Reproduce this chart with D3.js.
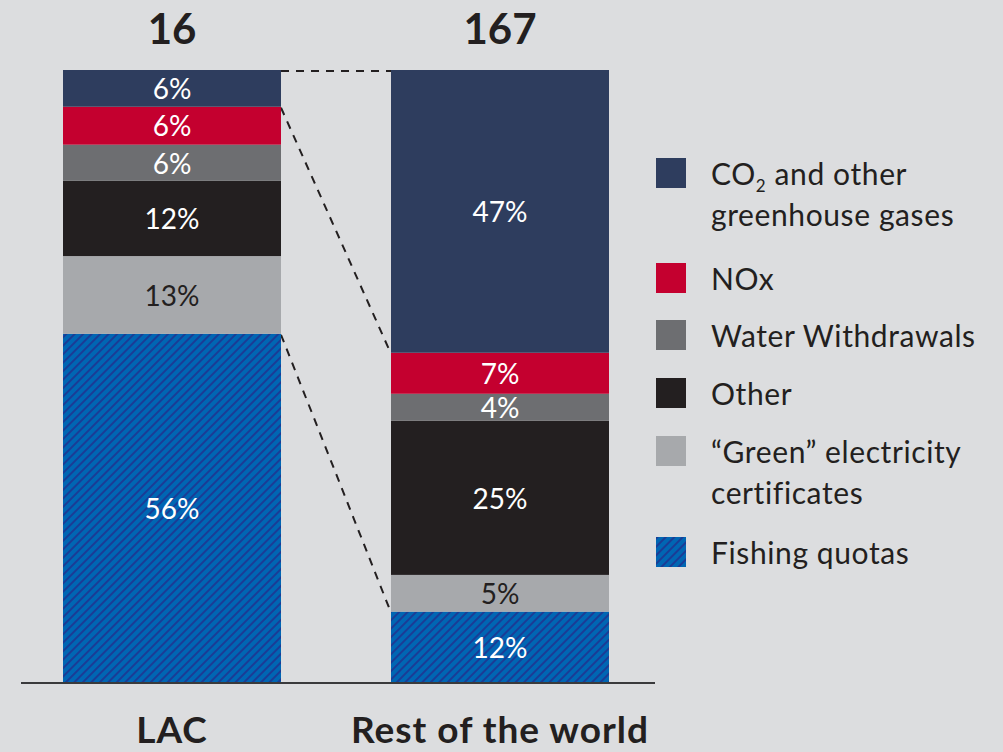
<!DOCTYPE html>
<html>
<head>
<meta charset="utf-8">
<script src="https://cdn.jsdelivr.net/npm/d3@7"></script>
<style>
  html, body { margin: 0; padding: 0; background: #dcdddf; }
  svg { display: block; font-family: Lato, "Open Sans", sans-serif; }
</style>
</head>
<body>
<svg id="chart" width="1003" height="752"></svg>
<script>
// categories and totals
const regions = ['LAC', 'Rest of the world'];
const totals = ['16', '167'];

// segments, listed from the bottom of the bar up
const segments = ['Fishing quotas', '"Green" electricity certificates', 'Other', 'Water Withdrawals', 'NOx', 'CO2 and other greenhouse gases'];
const lacShares = [56.9, 12.7, 12.3, 5.9, 6.2, 6.0];
const rowShares = [11.5, 6.0, 25.2, 4.4, 6.7, 46.2];
const lacLabels = ['56%', '13%', '12%', '6%', '6%', '6%'];
const rowLabels = ['12%', '5%', '25%', '4%', '7%', '47%'];

const colors = ['url(#hatch)', '#a7a9ac', '#231f20', '#6d6e71', '#c4002f', '#2e3d5e'];
const labelColors = ['#fff', '#231f20', '#fff', '#fff', '#fff', '#fff'];

const svg = d3.select('#chart');

const defs = svg.append('defs');
const hatch = defs
  .append('pattern')
  .attr('id', 'hatch')
  .attr('patternUnits', 'userSpaceOnUse')
  .attr('width', 6)
  .attr('height', 6)
  .attr('patternTransform', 'rotate(45)');
hatch.append('rect').attr('width', 6).attr('height', 6).attr('fill', '#0066b3');
hatch
  .append('line')
  .attr('x1', 1)
  .attr('x2', 1)
  .attr('y1', 0)
  .attr('y2', 6)
  .attr('stroke', '#1a3c96')
  .attr('stroke-width', 2);

const x = d3
  .scaleBand()
  .domain(regions)
  .range([63, 609])
  .paddingInner(110 / 218 / (1 + 110 / 218));

const y = d3.scaleLinear().domain([0, 100]).range([682, 70]);

const series = regions.map(region => {
  let acc = 0;
  return segments.map((s, i) => {
    const v = region === 'LAC' ? lacShares[i] : rowShares[i];
    const d = { region, i, y0: acc, y1: acc + v, label: region === 'LAC' ? lacLabels[i] : rowLabels[i] };
    acc += v;
    return d;
  });
});

// dashed connectors between the bars
const lac = series[0];
const row = series[1];
const links = [
  [lac[5].y1, row[5].y1],
  [lac[4].y1, row[4].y1],
  [lac[0].y1, row[0].y1]
];
svg
  .append('g')
  .selectAll('line')
  .data(links)
  .join('line')
  .attr('x1', x('LAC') + x.bandwidth())
  .attr('x2', x('Rest of the world'))
  .attr('y1', d => y(d[0]) + 1)
  .attr('y2', d => y(d[1]) + 1)
  .attr('stroke', '#231f20')
  .attr('stroke-width', 2)
  .attr('stroke-dasharray', '8,7');

const bars = svg
  .append('g')
  .selectAll('g')
  .data(series)
  .join('g');

bars
  .selectAll('rect')
  .data(d => d)
  .join('rect')
  .attr('x', d => x(d.region))
  .attr('width', x.bandwidth())
  .attr('y', d => y(d.y1))
  .attr('height', d => y(d.y0) - y(d.y1))
  .attr('fill', d => colors[d.i]);

bars
  .selectAll('text')
  .data(d => d)
  .join('text')
  .attr('x', d => x(d.region) + x.bandwidth() / 2)
  .attr('y', d => (y(d.y0) + y(d.y1)) / 2 + 1)
  .attr('dy', '0.35em')
  .attr('text-anchor', 'middle')
  .attr('fill', d => labelColors[d.i])
  .style('font-size', '28px')
  .text(d => d.label);

// baseline
svg
  .append('line')
  .attr('x1', 21)
  .attr('x2', 655)
  .attr('y1', y(0) + 1)
  .attr('y2', y(0) + 1)
  .attr('stroke', '#3a3a3c')
  .attr('stroke-width', 2);

// totals on top
svg
  .append('g')
  .selectAll('text')
  .data(regions)
  .join('text')
  .attr('x', d => x(d) + x.bandwidth() / 2)
  .attr('y', 44)
  .attr('text-anchor', 'middle')
  .attr('fill', '#231f20')
  .style('font-size', '42px')
  .style('font-weight', 700)
  .text((d, i) => totals[i]);

// category labels
svg
  .append('g')
  .selectAll('text')
  .data(regions)
  .join('text')
  .attr('x', d => x(d) + x.bandwidth() / 2)
  .attr('y', 743)
  .attr('text-anchor', 'middle')
  .attr('fill', '#231f20')
  .style('font-size', '37px')
  .style('font-weight', 700)
  .style('letter-spacing', '1px')
  .text(d => d);

// legend, top to bottom
const legendItems = [
  { i: 5, top: 158, lines: [['CO', '2', ' and other'], ['greenhouse gases']] },
  { i: 4, top: 263, lines: [['NOx']] },
  { i: 3, top: 320, lines: [['Water Withdrawals']] },
  { i: 2, top: 378, lines: [['Other']] },
  { i: 1, top: 436, lines: [['\u201cGreen\u201d electricity'], ['certificates']] },
  { i: 0, top: 537, lines: [['Fishing quotas']] }
];

const legend = svg
  .append('g')
  .selectAll('g')
  .data(legendItems)
  .join('g')
  .attr('transform', d => `translate(656, ${d.top})`);

legend
  .append('rect')
  .attr('width', 30)
  .attr('height', 30)
  .attr('fill', d => colors[d.i]);

legend.each(function(d) {
  const g = d3.select(this);
  d.lines.forEach((parts, li) => {
    const t = g
      .append('text')
      .attr('x', 55)
      .attr('y', 27 + li * 41)
      .attr('fill', '#231f20')
      .style('font-size', '30px')
      .style('letter-spacing', '0.6px');
    t.append('tspan').text(parts[0]);
    if (parts.length > 1) {
      t.append('tspan').attr('dy', 7).style('font-size', '17px').text(parts[1]);
      t.append('tspan').attr('dy', -7).text(parts[2]);
    }
  });
});
</script>
</body>
</html>
